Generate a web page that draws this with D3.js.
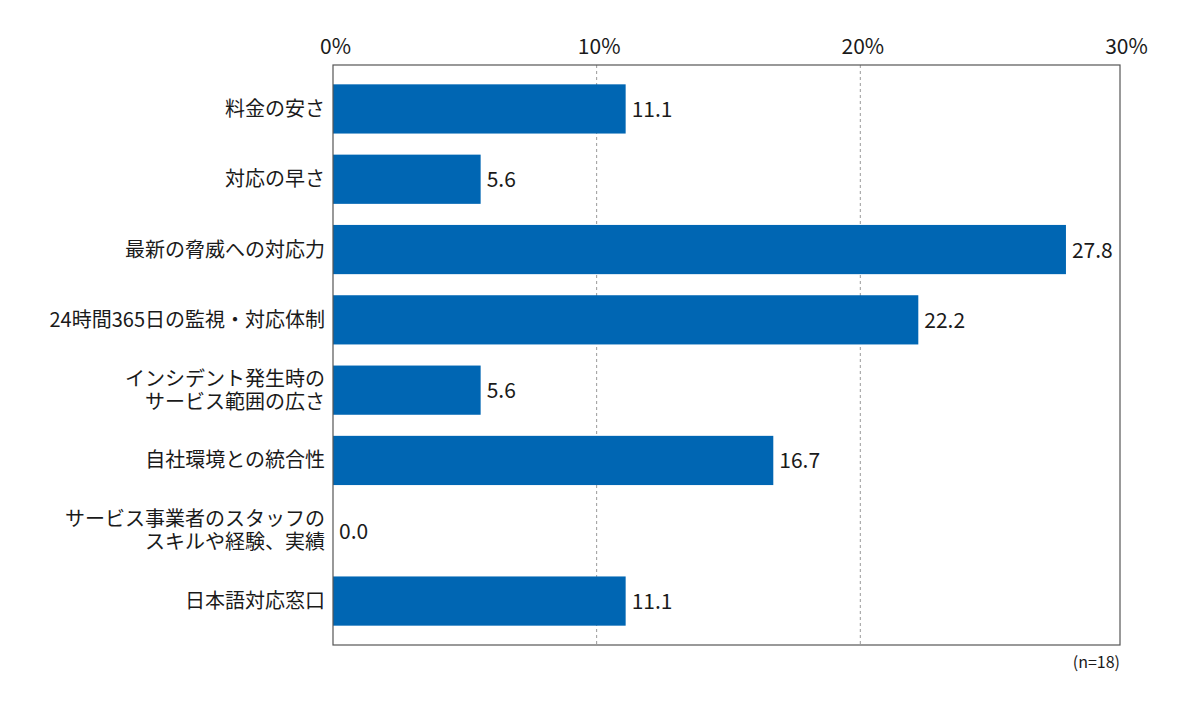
<!DOCTYPE html>
<html>
<head>
<meta charset="utf-8">
<script src="https://cdn.jsdelivr.net/npm/d3@7"></script>
<style>
  body { margin: 0; background: #fff; }
  text { font-family: "Noto Sans CJK JP", "Noto Sans", sans-serif; fill: #1a1a1a; }
</style>
</head>
<body>
<svg width="1200" height="716"></svg>
<script>
// categories (lines split for wrapped labels)
const categories = [
  ['料金の安さ'],
  ['対応の早さ'],
  ['最新の脅威への対応力'],
  ['24時間365日の監視・対応体制'],
  ['インシデント発生時の', 'サービス範囲の広さ'],
  ['自社環境との統合性'],
  ['サービス事業者のスタッフの', 'スキルや経験、実績'],
  ['日本語対応窓口']
];
const values = [11.1, 5.6, 27.8, 22.2, 5.6, 16.7, 0.0, 11.1];
const ticks = [0, 10, 20, 30];
const note = '(n=18)';

const BAR = '#0066b3';
const margin = {left: 333, top: 65, right: 1120, bottom: 645};

const svg = d3.select('svg');

const x = d3.scaleLinear().domain([0, 29.85]).range([margin.left, margin.right]);
const y = d3.scaleBand().domain(d3.range(categories.length))
    .range([margin.top, margin.bottom])
    .paddingInner(0.3).paddingOuter(0.275);

// dashed gridlines
svg.append('g').selectAll('line')
    .data(ticks.filter(t => t > 0 && t < 30))
    .join('line')
    .attr('x1', d => x(d)).attr('x2', d => x(d))
    .attr('y1', margin.top).attr('y2', margin.bottom)
    .attr('stroke', '#999').attr('stroke-width', 1)
    .attr('stroke-dasharray', '3,3');

// bars
svg.append('g').selectAll('rect')
    .data(values)
    .join('rect')
    .attr('x', x(0))
    .attr('y', (d, i) => y(i))
    .attr('width', d => x(d) - x(0))
    .attr('height', y.bandwidth())
    .attr('fill', BAR);

// frame
svg.append('rect')
    .attr('x', margin.left).attr('y', margin.top)
    .attr('width', margin.right - margin.left)
    .attr('height', margin.bottom - margin.top)
    .attr('fill', 'none').attr('stroke', '#555').attr('stroke-width', 1.2);

// top axis tick labels
const axis = d3.axisTop(x).tickValues(ticks).tickFormat(d => d + '%').tickSize(0).tickPadding(0);
const ax = svg.append('g').attr('transform', `translate(2,${margin.top - 11})`).call(axis);
ax.select('.domain').remove();
ax.selectAll('text').attr('font-size', 21).style('font-family', '"Noto Sans CJK JP", sans-serif').attr('fill', '#1a1a1a');

// value labels
svg.append('g').selectAll('text')
    .data(values)
    .join('text')
    .attr('x', d => x(d) + 6)
    .attr('y', (d, i) => y(i) + y.bandwidth() / 2 + 8)
    .attr('font-size', 21)
    .text(d => d.toFixed(1));

// category labels
const lab = svg.append('g').selectAll('text')
    .data(categories)
    .join('text')
    .attr('text-anchor', 'end')
    .attr('font-size', 20)
    .attr('y', (d, i) => y(i) + y.bandwidth() / 2 + 7 - (d.length - 1) * 11.5);
lab.selectAll('tspan')
    .data(d => d)
    .join('tspan')
    .attr('x', 325)
    .attr('dy', (d, i) => i === 0 ? 0 : 23)
    .text(d => d);

svg.append('text')
    .attr('x', margin.right).attr('y', 668)
    .attr('text-anchor', 'end').attr('font-size', 16)
    .text(note);
</script>
</body>
</html>
